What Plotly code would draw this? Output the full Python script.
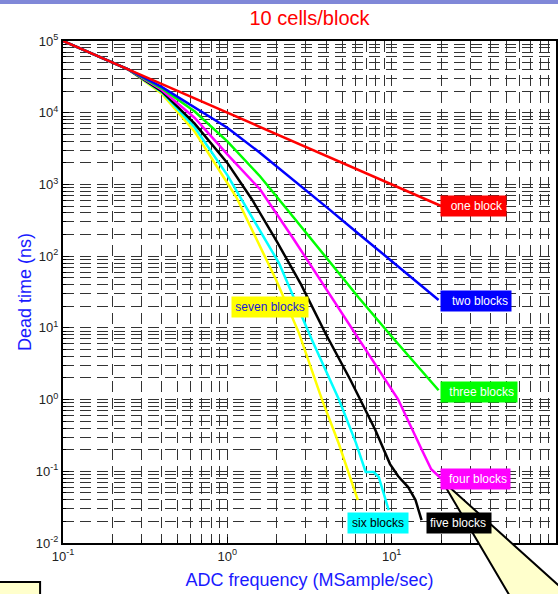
import numpy as np
import plotly.graph_objects as go

# ---------------- data ----------------
freq_one = [0.1, 20.0]
dead_one = [1e5, 500]

freq_two = [0.1, 0.251, 0.398, 0.631, 1.0, 1.585, 2.512, 3.981, 6.31, 10.0, 19.3]
dead_two = [1e5, 39800, 22900, 12000, 6170, 2750, 1175, 490, 204, 85.1, 24.5]

freq_three = [0.1, 0.251, 0.398, 0.631, 1.0, 1.585, 2.512, 3.981, 6.31, 10.0, 19.3]
dead_three = [1e5, 39800, 21900, 10470, 3980, 1290, 355, 95.5, 26.3, 7.59, 1.35]

freq_four = [0.1, 0.251, 0.398, 0.631, 1.0, 1.585, 2.512, 3.981, 6.31, 10.0, 10.96, 15.1, 17.4, 20.0]
dead_four = [1e5, 39800, 20900, 8510, 2630, 851, 178, 35.5, 6.92, 1.38, 1.0, 0.209, 0.107, 0.0794]

freq_five = [0.1, 0.251, 0.398, 0.631, 1.0, 1.413, 1.995, 2.818, 3.981, 5.623, 7.943,
             9.772, 10.96, 12.59, 13.96, 15.2]
dead_five = [1e5, 39800, 19950, 7080, 1995, 617, 162, 39.8, 8.13, 1.86, 0.380,
             0.126, 0.0851, 0.0603, 0.0398, 0.0209]

freq_six = [0.1, 0.251, 0.398, 0.631, 1.0, 1.23, 2.065, 3.273, 4.775, 6.053, 6.95, 7.78, 8.34, 9.59]
dead_six = [1e5, 39800, 19500, 6310, 1350, 603, 79.4, 6.76, 1.0, 0.251, 0.0977, 0.0977, 0.0832, 0.0288]

freq_seven = [0.1, 0.251, 0.398, 0.631, 1.0, 1.135, 1.982, 2.729, 3.767, 4.775, 5.483, 6.223]
dead_seven = [1e5, 39800, 18600, 5500, 1047, 661, 46.5, 8.45, 1.0, 0.240, 0.0933, 0.0398]

series_names = ["seven blocks", "six blocks", "five blocks", "four blocks",
                "three blocks", "two blocks", "one block"]
series_x = [freq_seven, freq_six, freq_five, freq_four, freq_three, freq_two, freq_one]
series_y = [dead_seven, dead_six, dead_five, dead_four, dead_three, dead_two, dead_one]
series_colors = ["#ffff00", "#00ffff", "#000000", "#ff00ff", "#00ff00", "#0000ff", "#ff0000"]

# label boxes
label_x = [1.06, 5.33, 16.1, 19.8, 19.8, 19.8, 19.8]
label_y = [19.8, 0.019, 0.019, 0.079, 1.27, 23.7, 500]
label_w = [76, 60, 64, 69, 76, 70, 65]
label_fg = ["#1a1ad8", "#000000", "#ffffff", "#ffffff", "#ffffff", "#ffffff", "#ffffff"]
label_align = ["center", "center", "left", "right", "right", "right", "right"]

x_tickvals = [0.1, 1, 10, 100]
x_ticktext = ["10<sup>-1</sup>", "10<sup>0</sup>", "10<sup>1</sup>", "10<sup>2</sup>"]
y_tickvals = [1e-2, 1e-1, 1, 10, 100, 1e3, 1e4, 1e5]
y_ticktext = ["10<sup>-2</sup>", "10<sup>-1</sup>", "10<sup>0</sup>", "10<sup>1</sup>",
              "10<sup>2</sup>", "10<sup>3</sup>", "10<sup>4</sup>", "10<sup>5</sup>"]

title_text = "10 cells/block"
x_title = "ADC frequency (MSample/sec)"
y_title = "Dead time (ns)"

# ---------------- figure ----------------
W, H = 558, 594
L, R, T, B = 63, 0, 41, 51

fig = go.Figure()
for xs, ys, c, n in zip(series_x, series_y, series_colors, series_names):
    fig.add_trace(go.Scatter(x=xs, y=ys, mode="lines", name=n,
                             line=dict(color=c, width=2.5), showlegend=False))

font = "Arial, Liberation Sans, Helvetica, sans-serif"
for n, lx, ly, w, bg, fg, al in zip(series_names, label_x, label_y, label_w,
                                    series_colors, label_fg, label_align):
    fig.add_annotation(x=np.log10(lx), y=np.log10(ly), text=n, showarrow=False,
                       xanchor="left", yanchor="middle", bgcolor=bg,
                       font=dict(color=fg, size=12, family=font),
                       width=w - 6, align=al, borderpad=3)

minor_x = [k * 10.0 ** e for e in range(-1, 2) for k in range(2, 10)]
minor_y = [k * 10.0 ** e for e in range(-2, 5) for k in range(2, 10)]

grid_common = dict(gridcolor="#333333", gridwidth=1, griddash="11px,6px")
minor_common = dict(tickmode="array", ticks="inside", ticklen=3, tickcolor="black",
                    showgrid=True, gridcolor="#333333", gridwidth=1, griddash="11px,6px")

fig.update_xaxes(type="log", range=[-1, 2], tickmode="array", tickvals=x_tickvals,
                 ticktext=x_ticktext, ticks="inside", ticklen=6, tickcolor="black",
                 showline=True, linecolor="black", linewidth=2, mirror=True,
                 showgrid=True, **grid_common, zeroline=False,
                 tickfont=dict(size=13, color="#222222", family=font),
                 minor=dict(tickvals=minor_x, **minor_common),
                 title=dict(text=x_title, font=dict(size=18, color="#1a1aff", family=font),
                            standoff=11))
fig.update_yaxes(type="log", range=[-2, 5], tickmode="array", tickvals=y_tickvals,
                 ticktext=y_ticktext, ticks="inside", ticklen=6, tickcolor="black",
                 showline=True, linecolor="black", linewidth=2, mirror=True,
                 showgrid=True, **grid_common, zeroline=False,
                 tickfont=dict(size=13, color="#222222", family=font),
                 minor=dict(tickvals=minor_y, **minor_common),
                 title=dict(text=y_title, font=dict(size=18, color="#1a1aff", family=font),
                            standoff=0))

# paper-coordinate helpers (pixel -> paper)
pw, ph = W - L - R, H - T - B
def px(xp):
    return (xp - L) / pw
def py(yp):
    return (H - B - yp) / ph

slope = (583 - 480) / (558 - 443)
ry = 480 + slope * (620 - 443)
shapes = [
    # slide header band
    dict(type="rect", xref="paper", yref="paper", x0=px(-5), x1=px(W + 5),
         y0=py(4), y1=py(-5), fillcolor="#8088d8", line=dict(width=0), layer="above"),
    # callout pointer
    dict(type="path", xref="paper", yref="paper",
         path=(f"M {px(443)} {py(480)} L {px(514)} {py(600)} "
               f"L {px(620)} {py(600)} L {px(620)} {py(ry)} Z"),
         fillcolor="#ffffcc", line=dict(color="black", width=2), layer="above"),
    # bottom-left note box
    dict(type="rect", xref="paper", yref="paper", x0=px(-5), x1=px(40),
         y0=py(610), y1=py(582), fillcolor="#ffffcc",
         line=dict(color="black", width=2), layer="above"),
]

fig.update_layout(
    width=W, height=H, margin=dict(l=L, r=R, t=T, b=B),
    paper_bgcolor="white", plot_bgcolor="white",
    title=dict(text=title_text, font=dict(size=20, color="#ff0000", family=font),
               x=0.5, xref="paper", xanchor="center", y=1 - 18 / H, yanchor="middle"),
    shapes=shapes,
    font=dict(family=font),
)

fig.write_html("out.html")
